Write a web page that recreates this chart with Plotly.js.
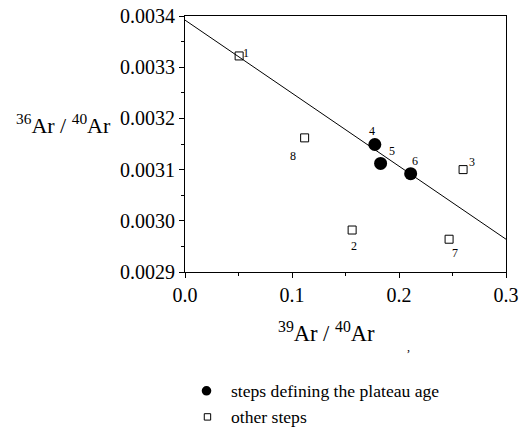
<!DOCTYPE html>
<html>
<head>
<meta charset="utf-8">
<script src="https://cdn.plot.ly/plotly-3.0.1.min.js"></script>
<style>html,body{margin:0;padding:0;background:#fff;}#chart{width:523px;height:427px;}</style>
</head>
<body>
<div id="chart"></div>
<script>
// Data
var plateauLabels = ["4", "5", "6"];
var plateauX = [0.1774, 0.1828, 0.2109];
var plateauY = [0.003149, 0.003112, 0.003092];

var otherLabels = ["1", "8", "2", "7", "3"];
var otherX = [0.0506, 0.1118, 0.1562, 0.2468, 0.2599];
var otherY = [0.003322, 0.003162, 0.002982, 0.002964, 0.003100];

var lineX = [0.0, 0.3];
var lineY = [0.003392, 0.002964];

var xTickVals = [0.0, 0.1, 0.2, 0.3];
var yTickVals = [0.0029, 0.0030, 0.0031, 0.0032, 0.0033, 0.0034];

var legendNames = ["steps defining the plateau age", "other steps"];

// label offsets (px) for point numbers
var labelShift = {
  "1": [7, 3], "8": [-12, -18], "2": [2, -16], "7": [6, -14], "3": [9, 8],
  "4": [-3, 14], "5": [11, 12], "6": [4, 13]
};

var serif = "Liberation Serif";

var traces = [
  {x: lineX, y: lineY, mode: "lines", line: {color: "#000", width: 1}, hoverinfo: "skip"},
  {x: otherX, y: otherY, mode: "markers", name: legendNames[1],
   marker: {symbol: "square-open", size: 8, color: "#000", line: {width: 1, color: "#000"}}},
  {x: plateauX, y: plateauY, mode: "markers", name: legendNames[0],
   marker: {symbol: "circle", size: 13, color: "#000"}}
];

var annotations = [];
function addLabels(labels, xs, ys) {
  for (var i = 0; i < labels.length; i++) {
    var s = labelShift[labels[i]];
    annotations.push({x: xs[i], y: ys[i], xref: "x", yref: "y", text: labels[i], showarrow: false,
      xshift: s[0], yshift: s[1], font: {family: serif, size: 12, color: "#000"}});
  }
}
addLabels(otherLabels, otherX, otherY);
addLabels(plateauLabels, plateauX, plateauY);

annotations.push({xref: "paper", yref: "y", x: -0.225, y: 0.0032, xanchor: "right", yanchor: "middle", yshift: -6,
  text: "<sup>36</sup>Ar / <sup>40</sup>Ar", showarrow: false, font: {family: serif, size: 22, color: "#000"}});
annotations.push({xref: "paper", yref: "paper", x: 0.442, y: -0.234, xanchor: "center", yanchor: "middle",
  text: "<sup>39</sup>Ar / <sup>40</sup>Ar", showarrow: false, font: {family: serif, size: 22.5, color: "#000"}});
annotations.push({xref: "paper", yref: "paper", x: 0.695, y: -0.292, xanchor: "center", yanchor: "middle",
  text: ",", showarrow: false, font: {family: serif, size: 12, color: "#000"}});

// manual legend
var legRowY = [-0.466, -0.568];
annotations.push({xref: "paper", yref: "paper", x: 0.137, y: legRowY[0], xanchor: "left", yanchor: "middle",
  text: legendNames[0], showarrow: false, font: {family: serif, size: 17.6, color: "#000"}});
annotations.push({xref: "paper", yref: "paper", x: 0.137, y: legRowY[1], xanchor: "left", yanchor: "middle",
  text: legendNames[1], showarrow: false, font: {family: serif, size: 17.6, color: "#000"}});

var shapes = [
  {type: "circle", xref: "paper", yref: "paper", xsizemode: "pixel", ysizemode: "pixel",
   xanchor: 0.067, yanchor: -0.464, x0: -4.8, x1: 4.8, y0: -4.8, y1: 4.8,
   fillcolor: "#000", line: {color: "#000", width: 0}},
  {type: "rect", xref: "paper", yref: "paper", xsizemode: "pixel", ysizemode: "pixel",
   xanchor: 0.070, yanchor: -0.566, x0: -3.2, x1: 3.2, y0: -3.2, y1: 3.2,
   fillcolor: "rgba(0,0,0,0)", line: {color: "#000", width: 1}}
];

var layout = {
  width: 523, height: 427,
  margin: {l: 185, r: 17, t: 16, b: 155, autoexpand: false},
  paper_bgcolor: "#fff", plot_bgcolor: "#fff",
  font: {family: serif, color: "#000"},
  showlegend: false,
  xaxis: {range: [0, 0.3], tickvals: xTickVals, tickformat: ".1f", showgrid: false, zeroline: false,
    showline: true, mirror: true, linecolor: "#000", linewidth: 1, ticks: "outside", ticklen: 5, tickcolor: "#000",
    minor: {dtick: 0.05, ticks: "outside", ticklen: 3, tickcolor: "#000", showgrid: false},
    tickfont: {family: serif, size: 20, color: "#000"}},
  yaxis: {range: [0.0029, 0.0034], tickvals: yTickVals, tickformat: ".4f", showgrid: false, zeroline: false,
    showline: true, mirror: true, linecolor: "#000", linewidth: 1, ticks: "outside", ticklen: 5, tickcolor: "#000",
    minor: {dtick: 0.00005, ticks: "outside", ticklen: 3, tickcolor: "#000", showgrid: false},
    tickfont: {family: serif, size: 20, color: "#000"}},
  annotations: annotations,
  shapes: shapes
};

Plotly.newPlot("chart", traces, layout, {staticPlot: true, displayModeBar: false});
</script>
</body>
</html>
